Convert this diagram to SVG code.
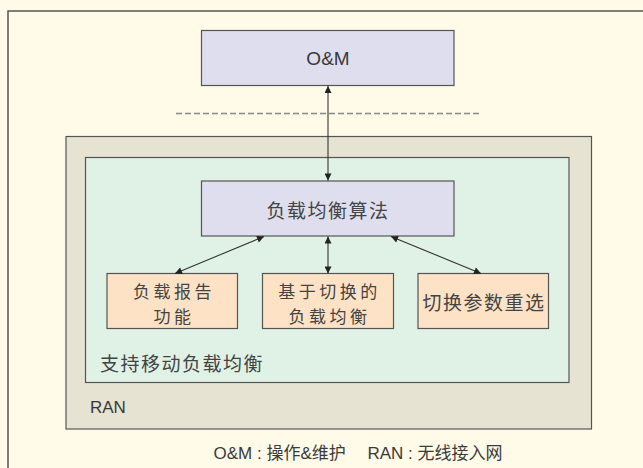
<svg xmlns="http://www.w3.org/2000/svg" width="643" height="468" viewBox="0 0 643 468">
  <defs>
    <marker id="arrow" viewBox="0 0 10 10" refX="10" refY="5" markerWidth="8" markerHeight="7" markerUnits="userSpaceOnUse" orient="auto-start-reverse">
      <path d="M0,0 L10,5 L0,10 Z" fill="#222"/>
    </marker>
    <style>
      .box { stroke: #555; stroke-width: 1.2; }
      .purple { fill: #dfdeee; }
      .orange { fill: #fde2c6; }
      .cjk { font-family: "Noto Sans CJK SC", "Noto Sans", sans-serif; font-size: 19px; fill: #444; letter-spacing: 1.5px; }
      .two { font-size: 17px; letter-spacing: 3.5px; }
      .lat { font-family: "Liberation Sans", "DejaVu Sans", sans-serif; fill: #383838; }
      .mid { text-anchor: middle; dominant-baseline: central; }
      .link { stroke: #333; stroke-width: 1.1; fill: none; marker-start: url(#arrow); marker-end: url(#arrow); }
    </style>
  </defs>

  <!-- page background and frame -->
  <rect x="0" y="0" width="643" height="468" fill="#fffbe8"/>
  <rect x="8" y="11" width="700" height="500" fill="#fffbe8" stroke="#555" stroke-width="1.5"/>

  <!-- dashed separator -->
  <line x1="176" y1="113.5" x2="481" y2="113.5" stroke="#888" stroke-width="1.3" stroke-dasharray="6,3"/>

  <!-- RAN container -->
  <g id="ran">
    <rect x="66" y="136.5" width="525.5" height="292.5" fill="#e6e3d2" stroke="#555" stroke-width="1.2"/>
    <text class="lat" x="90" y="407" font-size="17" dominant-baseline="central">RAN</text>
  </g>

  <!-- mobility load balancing container -->
  <g id="mlb">
    <rect x="85.5" y="157.5" width="483.5" height="225" fill="#e0f1e6" stroke="#555" stroke-width="1.2"/>
    <text class="cjk" x="100" y="362" dominant-baseline="central">支持移动负载均衡</text>
  </g>

  <g id="om">
    <rect class="box purple" x="201.5" y="30.5" width="252.5" height="55"/>
    <text class="lat mid" x="328" y="58" font-size="19">O&amp;M</text>
  </g>

  <g id="algorithm">
    <rect class="box purple" x="201.5" y="181" width="252.5" height="55"/>
    <text class="cjk mid" x="328" y="209">负载均衡算法</text>
  </g>

  <g id="report">
    <rect class="box orange" x="107" y="273.5" width="130.5" height="55"/>
    <text class="cjk two mid"><tspan x="174" y="289.5">负载报告</tspan><tspan x="174" y="314.5">功能</tspan></text>
  </g>

  <g id="handover-lb">
    <rect class="box orange" x="262.5" y="273.5" width="131" height="55"/>
    <text class="cjk two mid"><tspan x="329.5" y="289.5">基于切换的</tspan><tspan x="329.5" y="314.5">负载均衡</tspan></text>
  </g>

  <g id="reselect">
    <rect class="box orange" x="418" y="273.5" width="130.5" height="55"/>
    <text class="cjk mid" x="484" y="301">切换参数重选</text>
  </g>

  <g id="connectors">
    <line class="link" x1="328" y1="86" x2="328" y2="180.5" stroke="#777"/>
    <line class="link" x1="264" y1="236.5" x2="175" y2="273.5"/>
    <line class="link" x1="328" y1="236.5" x2="328" y2="273.5"/>
    <line class="link" x1="391" y1="236.5" x2="481" y2="273.5"/>
  </g>

  <!-- legend -->
  <text x="358" y="453" class="mid" font-family="Liberation Sans, Noto Sans CJK SC, sans-serif" font-size="17" fill="#3a3a3a">O&amp;M : 操作&amp;维护　 RAN : 无线接入网</text>
</svg>
